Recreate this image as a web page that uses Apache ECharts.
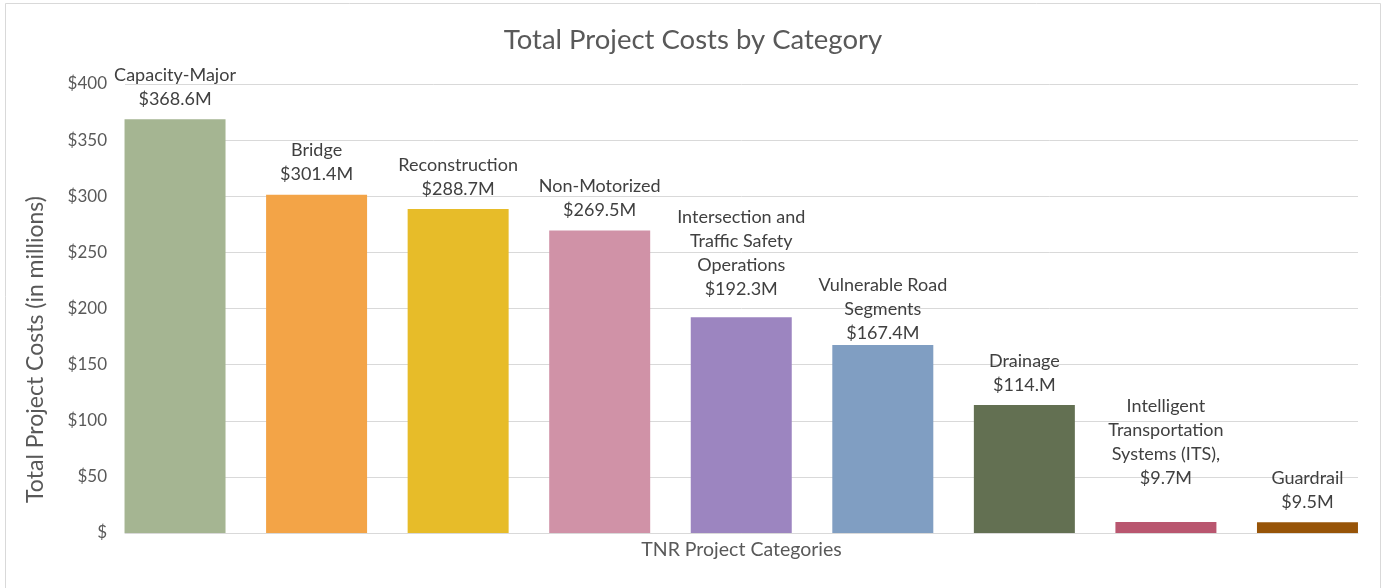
<!DOCTYPE html>
<html>
<head>
<meta charset="utf-8">
<script src="https://cdn.jsdelivr.net/npm/echarts@6/dist/echarts.min.js"></script>
<style>
html,body{margin:0;padding:0;background:#fff;}
#chart{width:1386px;height:588px;}
</style>
</head>
<body>
<div id="chart"></div>
<script>
const categories = ["Capacity-Major","Bridge","Reconstruction","Non-Motorized","Intersection and Traffic Safety Operations","Vulnerable Road Segments","Drainage","Intelligent Transportation Systems (ITS)","Guardrail"];
const labelLines = [
  "Capacity-Major\n$368.6M",
  "Bridge\n$301.4M",
  "Reconstruction\n$288.7M",
  "Non-Motorized\n$269.5M",
  "Intersection and\nTraffic Safety\nOperations\n$192.3M",
  "Vulnerable Road\nSegments\n$167.4M",
  "Drainage\n$114.M",
  "Intelligent\nTransportation\nSystems (ITS),\n$9.7M",
  "Guardrail\n$9.5M"
];
const values = [368.6, 301.4, 288.7, 269.5, 192.3, 167.4, 114.0, 9.7, 9.5];
const barColors = ["#A5B592","#F3A447","#E7BC29","#D092A7","#9C85C0","#809EC2","#637052","#B9566F","#975408"];
const yTicks = [0,50,100,150,200,250,300,350,400];
const titleText = "Total Project Costs by Category";
const yAxisTitle = "Total Project Costs (in millions)";
const xAxisTitle = "TNR Project Categories";

const FONT = "Lato, 'Open Sans', sans-serif";
const labelOffsets = {4: [0, -8], 5: [0, 8], 7: [0, -24]};
const chart = echarts.init(document.getElementById('chart'));
chart.setOption({
  backgroundColor: '#fff',
  animation: false,
  title: {
    text: titleText, left: 'center', top: 21,
    textStyle: {fontFamily: FONT, fontSize: 27.5, fontWeight: 'normal', color: '#595959'}
  },
  graphic: [{
    type: 'rect', shape: {x: 5.5, y: 3.5, width: 1375, height: 600},
    style: {fill: 'none', stroke: '#D9D9D9', lineWidth: 1}, silent: true
  }],
  grid: [
    {left: 125, right: 28, top: 84, bottom: 55},
    {left: 104.25, right: 7.75, top: 84, bottom: 55}
  ],
  xAxis: [
    {
      type: 'category', gridIndex: 0, data: categories,
      axisLine: {show: true, lineStyle: {color: '#D9D9D9', width: 1}},
      axisTick: {show: false}, axisLabel: {show: false},
      name: xAxisTitle, nameLocation: 'middle', nameGap: 7,
      nameTextStyle: {fontFamily: FONT, fontSize: 19.5, color: '#595959'}
    },
    {
      type: 'category', gridIndex: 1, data: categories,
      axisLine: {show: false}, axisTick: {show: false}, axisLabel: {show: false}
    }
  ],
  yAxis: [
    {
      type: 'value', gridIndex: 0, min: 0, max: 400, interval: 50,
      axisLine: {show: false}, axisTick: {show: false},
      splitLine: {lineStyle: {color: '#D9D9D9', width: 1}},
      axisLabel: {
        fontFamily: FONT, fontSize: 17, color: '#595959', margin: 18,
        formatter: v => v === 0 ? '$' : '$' + v
      },
      name: yAxisTitle, nameLocation: 'middle', nameGap: 78, nameRotate: 90,
      nameTextStyle: {fontFamily: FONT, fontSize: 23, color: '#595959', padding: [0, 82, 0, 0]}
    },
    {
      type: 'value', gridIndex: 1, min: 0, max: 400, interval: 50,
      show: false, splitLine: {show: false}
    }
  ],
  series: [{
    type: 'bar', xAxisIndex: 1, yAxisIndex: 1,
    barWidth: 101,
    data: values.map((v, i) => ({
      value: v,
      itemStyle: {color: barColors[i]},
      label: labelOffsets[i] ? {offset: labelOffsets[i]} : undefined
    })),
    label: {
      show: true, position: 'top', distance: 8,
      fontFamily: FONT, fontSize: 18, lineHeight: 24, color: '#404040',
      formatter: p => labelLines[p.dataIndex]
    }
  }]
});
</script>
</body>
</html>
